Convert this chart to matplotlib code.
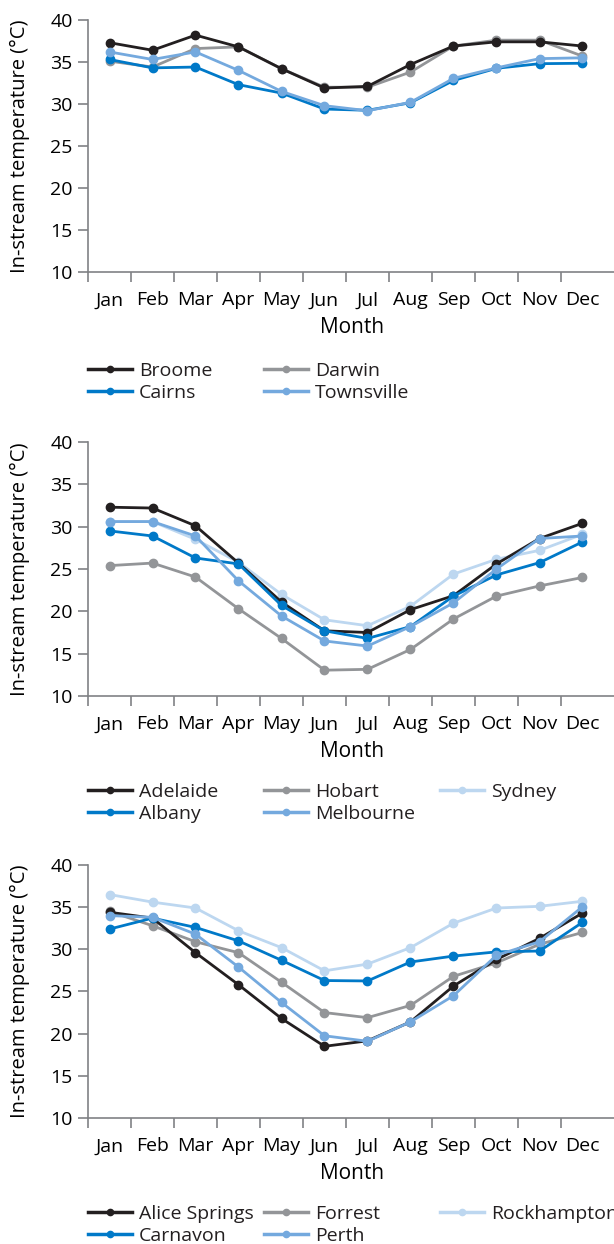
import matplotlib
matplotlib.use("Agg")
import matplotlib.pyplot as plt
from matplotlib.lines import Line2D

plt.rcParams['font.family'] = ['Open Sans', 'DejaVu Sans']
plt.rcParams['text.color'] = '#231f20'

months = ['Jan', 'Feb', 'Mar', 'Apr', 'May', 'Jun', 'Jul', 'Aug', 'Sep', 'Oct', 'Nov', 'Dec']
yticks = [10, 15, 20, 25, 30, 35, 40]

# panel 1 - tropical north
broome = [37.3, 36.4, 38.2, 36.8, 34.2, 31.9, 32.1, 34.7, 36.9, 37.4, 37.4, 36.9]
darwin = [35.1, 34.4, 36.6, 36.8, 34.2, 32.0, 32.0, 33.8, 36.9, 37.6, 37.6, 35.7]
cairns = [35.3, 34.3, 34.4, 32.3, 31.3, 29.4, 29.25, 30.15, 32.8, 34.25, 34.8, 34.85]
townsville = [36.2, 35.3, 36.2, 34.0, 31.5, 29.8, 29.2, 30.2, 33.05, 34.3, 35.4, 35.5]

# panel 2 - southern coast
adelaide = [32.3, 32.2, 30.1, 25.7, 21.1, 17.7, 17.5, 20.2, 21.85, 25.6, 28.6, 30.4]
albany = [29.5, 28.9, 26.3, 25.6, 20.7, 17.7, 16.8, 18.2, 21.8, 24.3, 25.75, 28.2]
hobart = [25.4, 25.7, 24.05, 20.3, 16.8, 13.05, 13.15, 15.5, 19.1, 21.8, 23.0, 24.0]
melbourne = [30.6, 30.6, 28.9, 23.6, 19.45, 16.5, 15.9, 18.2, 21.0, 25.0, 28.6, 28.9]
sydney = [30.6, 30.6, 28.5, 25.8, 22.0, 19.0, 18.3, 20.6, 24.4, 26.15, 27.2, 29.1]

# panel 3 - inland / west
alice = [34.4, 33.7, 29.6, 25.8, 21.8, 18.5, 19.15, 21.4, 25.65, 28.8, 31.3, 34.3]
carnavon = [32.4, 33.7, 32.6, 31.0, 28.7, 26.3, 26.25, 28.5, 29.2, 29.7, 29.8, 33.2]
forrest = [34.5, 32.8, 30.9, 29.6, 26.1, 22.5, 21.9, 23.35, 26.8, 28.4, 30.6, 32.0]
perth = [34.0, 33.8, 31.8, 27.9, 23.7, 19.75, 19.1, 21.4, 24.5, 29.3, 30.9, 35.05]
rockhampton = [36.5, 35.6, 34.9, 32.2, 30.2, 27.45, 28.25, 30.2, 33.1, 34.9, 35.1, 35.7]

c_black = '#231f20'
c_gray = '#939598'
c_blue = '#0079c8'
c_light = '#74a9de'
c_pale = '#bdd7f0'

panels = [
    [('Broome', broome, c_black), ('Cairns', cairns, c_blue),
     ('Darwin', darwin, c_gray), ('Townsville', townsville, c_light)],
    [('Adelaide', adelaide, c_black), ('Albany', albany, c_blue),
     ('Hobart', hobart, c_gray), ('Melbourne', melbourne, c_light),
     ('Sydney', sydney, c_pale)],
    [('Alice Springs', alice, c_black), ('Carnavon', carnavon, c_blue),
     ('Forrest', forrest, c_gray), ('Perth', perth, c_light),
     ('Rockhampton', rockhampton, c_pale)],
]
# drawing order (bottom to top)
draw_order = {c_gray: 1, c_pale: 2, c_black: 3, c_blue: 4, c_light: 5}

W, H = 614, 1244
fig = plt.figure(figsize=(W / 100, H / 100), dpi=100)

tops = [20, 442, 865]
bottoms = [272, 696, 1118]
leg_off = [90, 87, 87]
x = list(range(1, 13))
spine_c = '#808285'

for series, top, bot, lo in zip(panels, tops, bottoms, leg_off):
    ax = fig.add_axes([88 / W, 1 - bot / H, 1 - 88 / W, (bot - top) / H])
    for name, vals, col in series:
        ax.plot(x, vals, color=col, lw=2.0, marker='o', ms=6, zorder=draw_order[col], clip_on=False)
    ax.set_xlim(0.5, 0.5 + (W - 88) / 43)
    ax.set_ylim(10, 40)
    ax.set_yticks(yticks)
    ax.set_xticks([i + 0.5 for i in range(12)])
    ax.set_xticklabels([])
    ax.set_xticks(x, minor=True)
    ax.set_xticklabels(months, minor=True)
    ax.tick_params(which='major', direction='out', length=7, width=1.2, color=spine_c, labelsize=14, pad=4)
    ax.tick_params(axis='x', which='minor', length=0, pad=14, labelsize=14)
    for s in ['top', 'right']:
        ax.spines[s].set_visible(False)
    for s in ['left', 'bottom']:
        ax.spines[s].set_color(spine_c)
        ax.spines[s].set_linewidth(1.2)
    ax.set_ylabel('In-stream temperature (°C)', fontsize=14.5)
    ax.yaxis.set_label_coords(-58 / (W - 88), 0.5)
    ax.set_xlabel('Month', fontsize=15)
    ax.xaxis.set_label_coords((352 - 88) / (W - 88), -45 / (bot - top))

    # legend, one per column with fixed column width
    cols = [series[i:i + 2] for i in range(0, len(series), 2)]
    for ci, col_items in enumerate(cols):
        handles = [Line2D([], [], color=c, lw=2.5, marker='o', ms=4.5) for _, _, c in col_items]
        labels = [n for n, _, _ in col_items]
        fig.legend(handles, labels, loc='upper left',
                   bbox_to_anchor=((88 + 176 * ci) / W, 1 - (bot + lo) / H),
                   frameon=False, fontsize=14, handlelength=2.26, handletextpad=0.36,
                   labelspacing=0.2, borderpad=0, borderaxespad=0)

fig.savefig('out.png', dpi=100)
